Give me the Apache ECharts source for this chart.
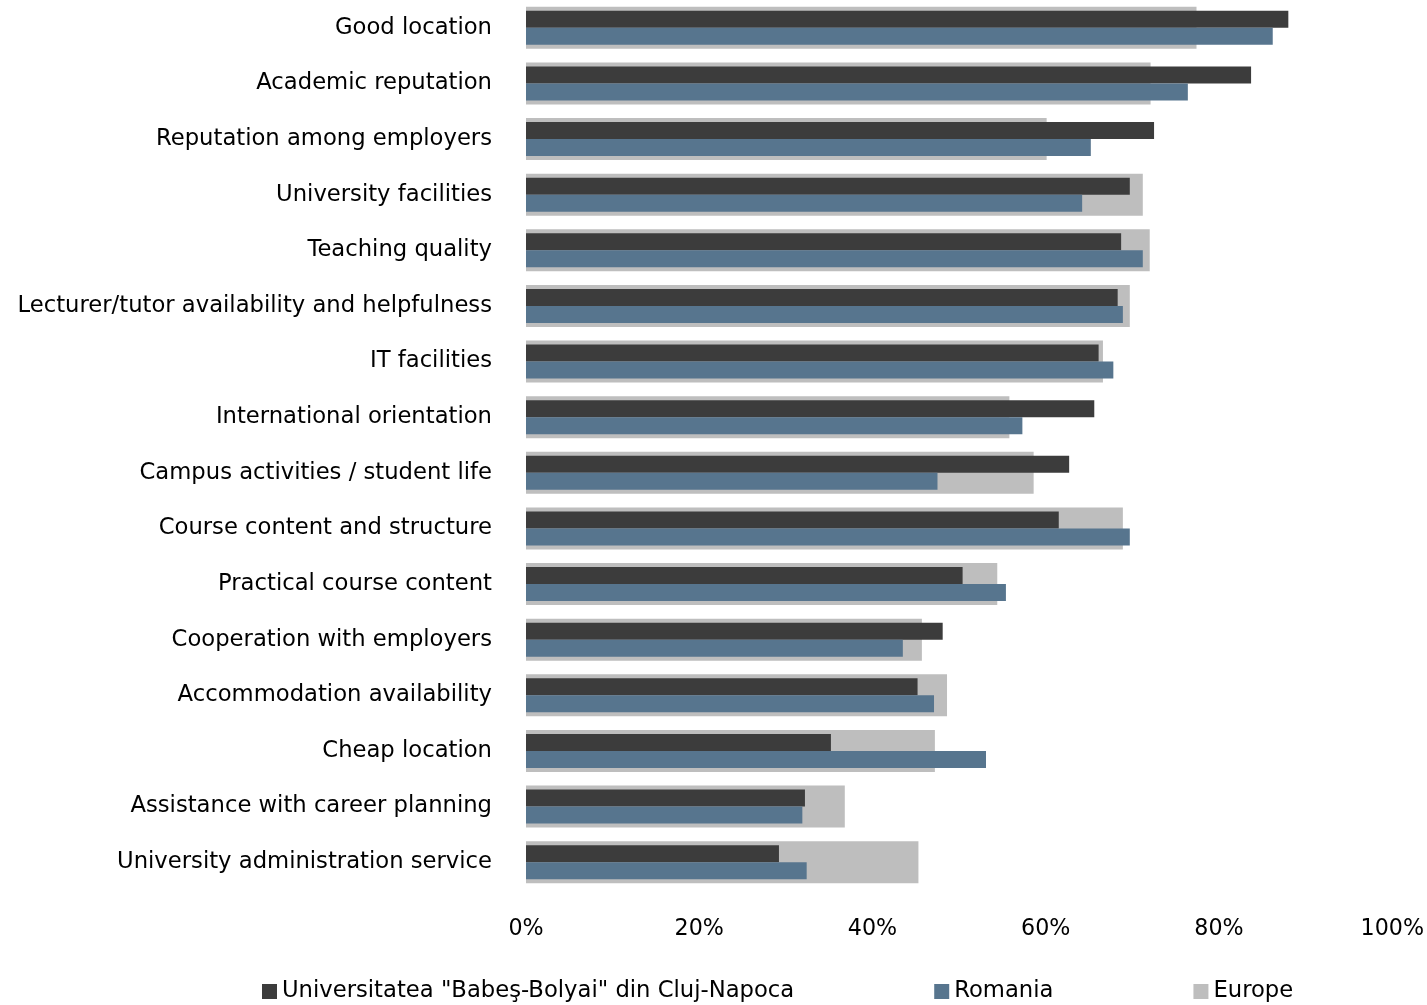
<!DOCTYPE html>
<html>
<head>
<meta charset="utf-8">
<script src="https://cdn.jsdelivr.net/npm/echarts@6/dist/echarts.min.js"></script>
<style>html,body{margin:0;padding:0;background:#fff;}#c{width:1427px;height:1005px;}</style>
</head>
<body>
<div id="c"></div>
<script>
const categories = [
  "Good location",
  "Academic reputation",
  "Reputation among employers",
  "University facilities",
  "Teaching quality",
  "Lecturer/tutor availability and helpfulness",
  "IT facilities",
  "International orientation",
  "Campus activities / student life",
  "Course content and structure",
  "Practical course content",
  "Cooperation with employers",
  "Accommodation availability",
  "Cheap location",
  "Assistance with career planning",
  "University administration service"
];
const seriesNames = ["Universitatea \"Babeş-Bolyai\" din Cluj-Napoca", "Romania", "Europe"];
const ubb = [88.0, 83.7, 72.5, 69.7, 68.7, 68.3, 66.1, 65.6, 62.7, 61.5, 50.4, 48.1, 45.2, 35.2, 32.2, 29.2];
const romania = [86.2, 76.4, 65.2, 64.2, 71.2, 68.9, 67.8, 57.3, 47.5, 69.7, 55.4, 43.5, 47.1, 53.1, 31.9, 32.4];
const europe = [77.4, 72.1, 60.1, 71.2, 72.0, 69.7, 66.6, 55.8, 58.6, 68.9, 54.4, 45.7, 48.6, 47.2, 36.8, 45.3];
const xTicks = [0, 20, 40, 60, 80, 100];

const FONT = "DejaVu Sans";
const FS = 22.7;
const chart = echarts.init(document.getElementById('c'), null, {renderer: 'canvas'});
chart.setOption({
  animation: false,
  textStyle: {fontFamily: FONT, color: '#000'},
  grid: {left: 526, right: 34, top: 0, bottom: 115, containLabel: false},
  legend: {
    bottom: -3, left: 257, itemWidth: 15, itemHeight: 15, itemGap: 140,
    icon: 'rect',
    textStyle: {fontFamily: FONT, fontSize: FS, color: '#000'},
    data: seriesNames
  },
  xAxis: {
    type: 'value', min: 0, max: 100, interval: 20,
    axisLine: {show: false}, axisTick: {show: false}, splitLine: {show: false},
    axisLabel: {formatter: v => v + '%', fontSize: 22.2, color: '#000', margin: 28, fontFamily: FONT}
  },
  yAxis: [
    {
      type: 'category', data: categories, inverse: true,
      axisLine: {show: false}, axisTick: {show: false},
      axisLabel: {fontSize: FS, color: '#000', margin: 34, fontFamily: FONT}
    },
    {
      type: 'category', data: categories, inverse: true, show: false
    }
  ],
  series: [
    {name: seriesNames[2], type: 'bar', yAxisIndex: 1, data: europe, barWidth: 42, itemStyle: {color: '#bebebe'}, z: 1},
    {name: seriesNames[0], type: 'bar', yAxisIndex: 0, data: ubb, barWidth: 17, barGap: 0, itemStyle: {color: '#3c3c3c'}, z: 2},
    {name: seriesNames[1], type: 'bar', yAxisIndex: 0, data: romania, barWidth: 17, barGap: 0, itemStyle: {color: '#57758e'}, z: 2}
  ]
});
</script>
</body>
</html>
